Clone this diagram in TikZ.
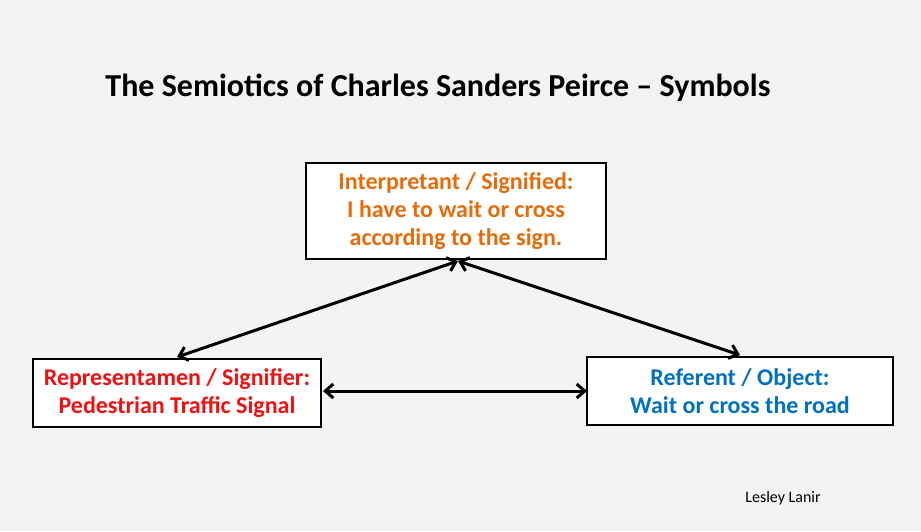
\documentclass[tikz,border=0pt]{standalone}
\usepackage{fontspec}
\setmainfont{Carlito}
\usetikzlibrary{arrows.meta}
\definecolor{bg}{HTML}{F4F3F2}
\definecolor{orng}{HTML}{E46C0A}
\definecolor{rd}{HTML}{EE1111}
\definecolor{bl}{HTML}{0070C0}
\begin{document}
\begin{tikzpicture}[x=1pt,y=-1pt,
  boxst/.style={draw=black,line width=2pt,fill=white,font=\bfseries\fontsize{24}{28}\selectfont,align=center,inner sep=0pt},
  arr/.style={line width=3pt,{Straight Barb[length=8pt,width=14pt]}-{Straight Barb[length=8pt,width=14pt]}}]
\fill[bg] (0,0) rectangle (921,531);
\useasboundingbox (0,0) rectangle (921,531);
\node[font=\bfseries\fontsize{32}{36}\selectfont] (title) at (438,88) {The Semiotics of Charles Sanders Peirce – Symbols};
\node[boxst,text=orng,minimum width=300pt,minimum height=96pt] (top) at (456,211) {Interpretant / Signified:\\I have to wait or cross\\according to the sign.};
\node[boxst,text=rd,minimum width=288pt,minimum height=68pt] (left) at (177,393) {Representamen / Signifier:\\Pedestrian Traffic Signal};
\node[boxst,text=bl,minimum width=306pt,minimum height=68pt] (right) at (740,391) {Referent / Object:\\Wait or cross the road};
\node[font=\fontsize{16}{18}\selectfont] (auth) at (783,498) {Lesley Lanir};
\coordinate (tp) at (458,261);
\coordinate (lp) at (177,357);
\coordinate (rp) at (740,355);
\coordinate (lh) at (323,391);
\coordinate (rh) at (587,391);
\draw[arr] (tp) -- (lp);
\draw[arr] (tp) -- (rp);
\draw[arr] (lh) -- (rh);
\end{tikzpicture}
\end{document}
